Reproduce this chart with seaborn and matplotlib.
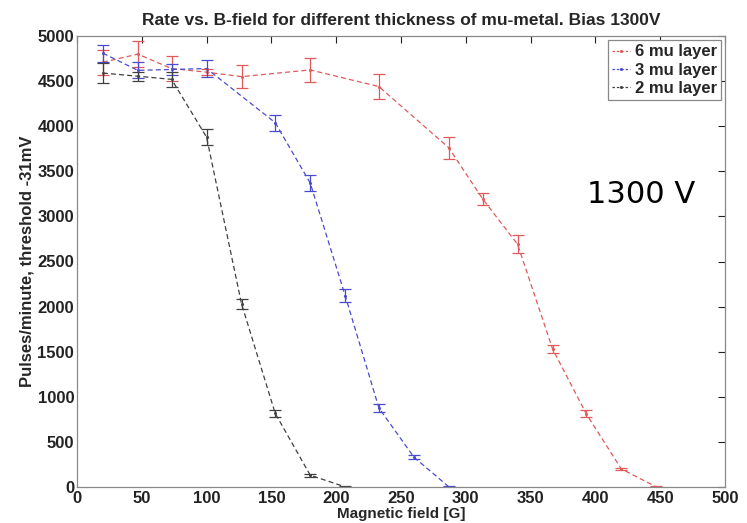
import matplotlib
matplotlib.use("Agg")
import matplotlib.pyplot as plt
import seaborn as sns
import pandas as pd
from matplotlib.lines import Line2D

# ---- data ----
x6 = [20, 47, 73, 100, 127, 180, 233, 287, 313, 340, 367, 393, 420, 447]
y6 = [4710, 4800, 4640, 4600, 4550, 4625, 4440, 3760, 3195, 2690, 1530, 810, 200, 0]
e6 = [140, 140, 140, 30, 130, 135, 135, 120, 65, 100, 45, 40, 15, 5]

x3 = [20, 47, 73, 100, 153, 180, 207, 233, 260, 287]
y3 = [4810, 4620, 4630, 4640, 4040, 3370, 2120, 875, 330, 0]
e3 = [95, 90, 60, 90, 90, 85, 70, 40, 20, 5]

x2 = [20, 47, 73, 100, 127, 153, 180, 207]
y2 = [4590, 4555, 4520, 3880, 2030, 815, 130, 0]
e2 = [110, 50, 80, 85, 55, 40, 15, 5]

labels = ["6 mu layer", "3 mu layer", "2 mu layer"]
colors = ["#e05a5a", "#4a4ad0", "#404040"]

title = "Rate vs. B-field for different thickness of mu-metal. Bias 1300V"
xlabel = "Magnetic field [G]"
ylabel = "Pulses/minute, threshold -31mV"
annotation = "1300 V"
xticks = [0, 50, 100, 150, 200, 250, 300, 350, 400, 450, 500]
yticks = [0, 500, 1000, 1500, 2000, 2500, 3000, 3500, 4000, 4500, 5000]

rows = []
for lab, xs, ys, es in zip(labels, [x6, x3, x2], [y6, y3, y2], [e6, e3, e2]):
    for a, b, c in zip(xs, ys, es):
        rows.append({"field": a, "rate": b, "err": c, "series": lab})
df = pd.DataFrame(rows)

sns.set_style("white")
plt.rcParams["font.family"] = ["Liberation Sans", "DejaVu Sans"]

fig = plt.figure(figsize=(7.47, 5.23), dpi=100)
ax = fig.add_axes([0.103, 0.069, 0.8675, 0.862])

palette = dict(zip(labels, colors))
sns.lineplot(data=df, x="field", y="rate", hue="series", hue_order=labels,
             palette=palette, ax=ax, linestyle=(0, (4, 2.5)), linewidth=0.9,
             marker="o", markersize=2.2, markeredgewidth=0, sort=False,
             errorbar=None, legend=False)
for lab in labels:
    d = df[df.series == lab]
    ax.errorbar(d.field, d.rate, yerr=d.err, fmt="none", ecolor=palette[lab],
                elinewidth=0.9, capsize=4, capthick=0.9)

ax.set_xlim(0, 500)
ax.set_ylim(0, 5000)
ax.set_xticks(xticks)
ax.set_yticks(yticks)
ax.tick_params(direction="in", top=True, right=True, length=5, width=0.8,
               labelsize=12, colors="#222222", pad=2)
ax.tick_params(axis="x", pad=3)
for t in ax.get_xticklabels() + ax.get_yticklabels():
    t.set_fontweight("bold")
for s in ax.spines.values():
    s.set_color("#888888")
    s.set_linewidth(0.9)

ax.set_title(title, fontsize=12.5, fontweight="bold", pad=8)
ax.set_xlabel(xlabel, fontsize=11, fontweight="bold", labelpad=1)
ax.set_ylabel(ylabel, fontsize=12, fontweight="bold", labelpad=2)

handles = [Line2D([0], [0], color=c, linestyle=(0, (2, 1.5)), linewidth=0.9,
                  marker="o", markersize=2.2, markeredgewidth=0) for c in colors]
leg = ax.legend(handles, labels, loc="upper right",
                prop={"weight": "bold", "size": 12}, handlelength=1.1,
                handletextpad=0.25, borderpad=0.25, labelspacing=0.2,
                fancybox=False, framealpha=1, edgecolor="#888888",
                borderaxespad=0.25)
leg.get_frame().set_linewidth(0.9)

ax.text(435, 3245, annotation, fontsize=22, ha="center", va="center",
        family="DejaVu Sans", color="black")

fig.savefig("out.png", dpi=100)
